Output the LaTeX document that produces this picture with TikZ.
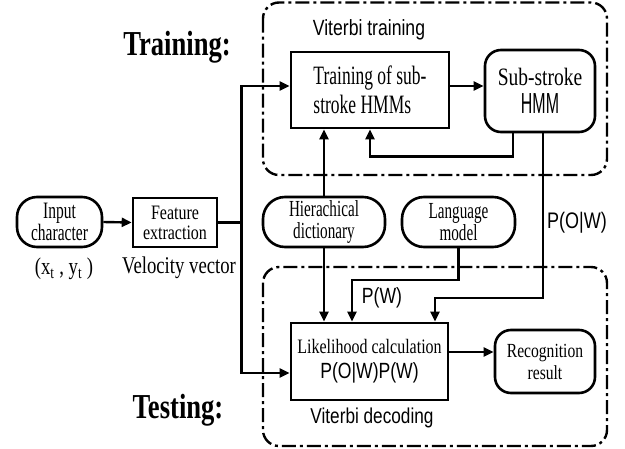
\documentclass[tikz,border=0pt]{standalone}
\usepackage{fontspec}
\setmainfont{Liberation Serif}
\newfontfamily\serc[FakeStretch=0.66]{Liberation Serif}
\newfontfamily\sercw[FakeStretch=0.78]{Liberation Serif}
\newfontfamily\serb[FakeStretch=0.76]{Liberation Serif}
\newfontfamily\sanf[FakeStretch=0.8]{Liberation Sans}
\newfontfamily\sanfn[FakeStretch=0.55]{Liberation Sans}
\usetikzlibrary{arrows.meta,calc}
\newcommand\fs[2]{\fontsize{#1}{#2}\selectfont}
\begin{document}
\begin{tikzpicture}[x=1pt,y=-1pt,
 box/.style={draw,line width=2.6pt,inner sep=0pt,align=center,font=\serc},
 rbox/.style={box,rounded corners=#1},
 rbox/.default=18pt,
 conn/.style={line width=2.4pt},
 arr/.style={conn,-{Triangle[length=10pt,width=9pt]}},
 region/.style={draw,line width=2.4pt,rounded corners=16pt,dash pattern=on 14pt off 4pt on 3pt off 4pt},
 lbl/.style={inner sep=0pt}]
\useasboundingbox (0,0) rectangle (625,448);

% regions
\draw[region] (263,2.5) rectangle (607,175);
\draw[region] (263,267) rectangle (607,446);

% nodes
\node[rbox=20pt,minimum width=85pt,minimum height=50pt,font=\serc\fs{23.5}{19}] (input) at (59.5,222) {Input\\character};
\node[box,minimum width=84pt,minimum height=49pt,font=\sercw\fs{20.5}{20}] (feat) at (175,222.5) {Feature\\extraction};
\node[box,minimum width=158pt,minimum height=76pt,align=left,font=\serc\fs{26.5}{29.5}] (train) at (370,90) {Training of sub-\\stroke HMMs\hspace*{0pt}};
\node[rbox=16pt,minimum width=110pt,minimum height=82pt,font=\fs{26}{28}] (sub) at (540,91) {{\sercw\fs{25}{28}Sub-stroke}\\{\sanfn\fs{29}{28}HMM}};
\node[rbox=22pt,minimum width=122pt,minimum height=50pt,font=\serc\fs{23}{21.5}] (hier) at (324,222) {Hierachical\\dictionary};
\node[rbox=22pt,minimum width=113pt,minimum height=50pt,font=\serc\fs{23}{21.5}] (lang) at (458.5,222) {Language\\model};
\node[box,minimum width=157pt,minimum height=77pt,font=\fs{22}{25}] (lik) at (369.5,361.5) {{\sercw\fs{20.5}{25}Likelihood calculation}\\{\sanf\fs{22}{25}P(O|W)P(W)}};
\node[rbox=16pt,minimum width=100pt,minimum height=63pt,font=\sercw\fs{20}{22}] (rec) at (545,361.5) {Recognition\\result};

% labels
\node[lbl,font=\serb\bfseries\fs{35}{35}] (trl) at (177,47) {Training:};
\node[lbl,font=\serb\bfseries\fs{35}{35}] (tsl) at (178,410) {Testing:};
\node[lbl,font=\sanf\fs{22}{22}] (vt) at (369,30) {Viterbi training};
\node[lbl,font=\sanf\fs{21.5}{22}] (vd) at (372,418) {Viterbi decoding};
\node[lbl,font=\sercw\fs{24}{25}] (xy) at (64,269) {(x\textsubscript{t} , y\textsubscript{t} )};
\node[lbl,font=\sercw\fs{24}{25}] (vv) at (179,268) {Velocity vector};
\node[lbl,font=\sanf\fs{22.5}{22}] (pow) at (577,223) {P(O|W)};
\node[lbl,font=\sanf\fs{22}{22}] (pw) at (382,298) {P(W)};

% connectors
\coordinate (j) at ($(feat.east)+(23,0)$);
\draw[arr] (input.east) -- (feat.west);
\draw[conn] (feat.east) -- (j);
\draw[arr] (j) |- ($(train.west)+(0,-4)$);
\draw[arr] (j) |- ($(lik.west)+(0,11.5)$);
\draw[arr] ($(train.east)+(0,-4)$) -- ($(sub.west)+(0,-5)$);
\coordinate (fb) at ($(sub.south)+(-27,23)$);
\draw[arr] ($(sub.south)+(-27,0)$) -- (fb) -| (train.south);
\draw[arr] (hier.north) -- (hier.north |- train.south);
\draw[arr] (hier.south) -- (hier.south |- lik.north);
\coordinate (c1) at (352,280);
\draw[arr] (lang.south) |- (c1) -- (c1 |- lik.north);
\coordinate (c2) at (435,298);
\draw[arr] ($(sub.south)+(3,0)$) |- (c2) -- (c2 |- lik.north);
\draw[arr] ($(lik.east)+(0,-9.5)$) -- ($(rec.west)+(0,-9.5)$);
\end{tikzpicture}
\end{document}
